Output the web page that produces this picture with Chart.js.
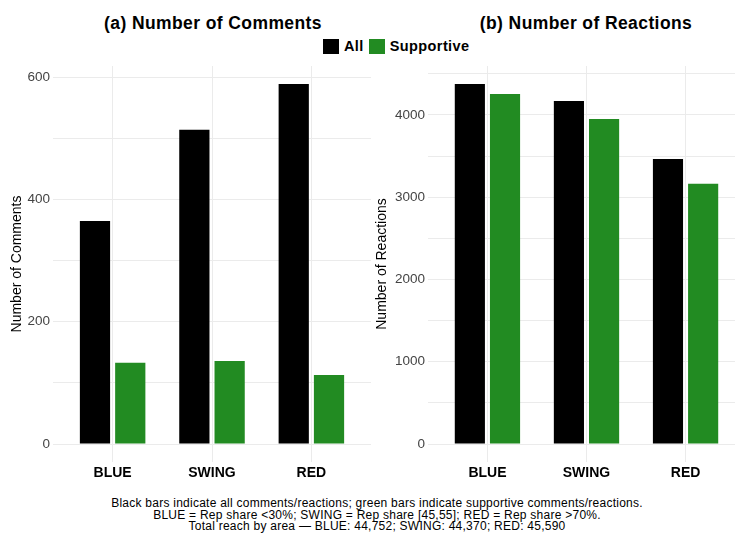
<!DOCTYPE html>
<html>
<head>
<meta charset="utf-8">
<script src="https://cdn.jsdelivr.net/npm/chart.js@4.4.1/dist/chart.umd.min.js"></script>
<style>
body { margin: 0; width: 735px; height: 535px; overflow: hidden; background: #fff; position: relative;
       font-family: "Liberation Sans", Arial, sans-serif; color: #000; }
.title { position: absolute; top: 13px; font-weight: bold; font-size: 17.5px; letter-spacing: 0.4px; line-height: 20px; text-align: center; }
#legend { position: absolute; left: 323px; top: 39px; height: 15px; display: flex; align-items: center;
          font-weight: bold; font-size: 14.5px; letter-spacing: 0.4px; line-height: 15px; }
#legend .key { display: inline-block; width: 16px; height: 15px; margin-right: 5px; }
#legend .lbl { margin-right: 5px; }
.panel { position: absolute; top: 60px; }
#caption { position: absolute; left: 0; width: 754px; top: 498px; font-size: 12px; letter-spacing: 0.25px; line-height: 11.7px; text-align: center; }
</style>
</head>
<body>
<div class="title" style="left:0; width:426px;">(a) Number of Comments</div>
<div class="title" style="left:373px; width:426px;">(b) Number of Reactions</div>
<div id="legend"></div>
<canvas id="chartComments" class="panel" style="left:0;" width="380" height="430"></canvas>
<canvas id="chartReactions" class="panel" style="left:365px;" width="385" height="430"></canvas>
<div id="caption">
Black bars indicate all comments/reactions; green bars indicate supportive comments/reactions.<br>
BLUE = Rep share &lt;30%; SWING = Rep share [45,55]; RED = Rep share &gt;70%.<br>
Total reach by area — BLUE: 44,752; SWING: 44,370; RED: 45,590
</div>
<script>
// areas and series
var categories = ["BLUE", "SWING", "RED"];
var seriesNames = ["All", "Supportive"];
var colours = ["#000000", "#228B22"];

// comment counts per area
var commentsAll = [365, 514, 589];
var commentsSupportive = [133, 136, 113];

// reaction counts per area
var reactionsAll = [4376, 4170, 3465];
var reactionsSupportive = [4255, 3951, 3162];

// y gridlines, and which of them get a label
var commentTicks = [0, 100, 200, 300, 400, 500, 600];
var commentLabels = [0, 200, 400, 600];
var reactionTicks = [0, 500, 1000, 1500, 2000, 2500, 3000, 3500, 4000, 4500];
var reactionLabels = [0, 1000, 2000, 3000, 4000];

Chart.defaults.font.family = '"Liberation Sans", Arial, sans-serif';

// shared legend
var legend = document.getElementById('legend');
for (var i = 0; i < seriesNames.length; i++) {
    legend.innerHTML += '<span class="key" style="background:' + colours[i] + '"></span><span class="lbl">' + seriesNames[i] + '</span>';
}

function barChart(id, allData, supData, ticks, labels, axisTitle, yWidth, padRight)
{
    var top = Math.max.apply(null, allData.concat(supData));

    return new Chart(document.getElementById(id), {
        type: 'bar',
        data: {
            labels: categories,
            datasets: [
                { label: seriesNames[0], data: allData, backgroundColor: colours[0] },
                { label: seriesNames[1], data: supData, backgroundColor: colours[1] }
            ]
        },
        options: {
            responsive: false,
            animation: false,
            datasets: { bar: { categoryPercentage: 0.71, barPercentage: 0.857 } },
            layout: { padding: { top: 6, right: padRight, left: 0, bottom: 0 } },
            plugins: { legend: { display: false }, tooltip: { enabled: false } },
            scales: {
                x: {
                    grid: { offset: false, color: '#ebebeb', drawTicks: false },
                    border: { display: false },
                    ticks: { color: '#000', font: { size: 14, weight: 'bold' }, padding: 3 },
                    // widen the category range a little past the outer bars
                    afterBuildTicks: function(s) { s._startValue = -0.6; s._valueRange = 3.2; },
                    afterFit: function(s) { s.height = 28; s.paddingLeft = 0; s.paddingRight = 0; }
                },
                y: {
                    min: -top * 0.05,
                    max: top * 1.05,
                    grid: { color: '#ebebeb', drawTicks: false },
                    border: { display: false },
                    afterBuildTicks: function(s) { s.ticks = ticks.map(function(v) { return { value: v }; }); },
                    ticks: {
                        color: '#444',
                        font: { size: 13.5 },
                        padding: 3,
                        callback: function(v) { return labels.indexOf(v) >= 0 ? String(v) : ''; }
                    },
                    title: { display: true, text: axisTitle, color: '#000', font: { size: 14 }, padding: { top: 9, bottom: 0 } },
                    afterFit: function(s) { s.width = yWidth; s.paddingTop = 0; s.paddingBottom = 0; }
                }
            }
        }
    });
}

// graph a
barChart('chartComments', commentsAll, commentsSupportive, commentTicks, commentLabels, 'Number of Comments', 53, 9);

// graph b
barChart('chartReactions', reactionsAll, reactionsSupportive, reactionTicks, reactionLabels, 'Number of Reactions', 63, 5);
</script>
</body>
</html>
